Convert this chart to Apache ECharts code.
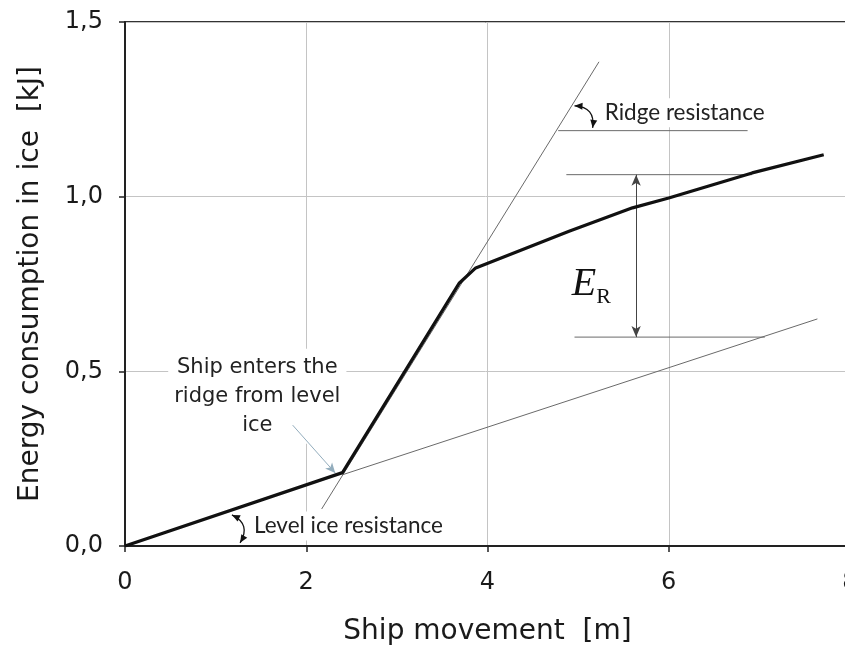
<!DOCTYPE html>
<html>
<head>
<meta charset="utf-8">
<script src="https://cdn.jsdelivr.net/npm/echarts@6/dist/echarts.min.js"></script>
<style>
  html, body { margin: 0; padding: 0; background: #fff; }
  #chart { width: 845px; height: 657px; }
</style>
</head>
<body>
<div id="chart"></div>
<script>
  // energy curve (x in m, y in kJ)
  var mainCurve = [[0, 0], [2.4, 0.21], [3.69, 0.753], [3.87, 0.796], [4.9, 0.901], [5.6, 0.968], [6, 0.996], [6.92, 1.068], [7.71, 1.12]];
  // helper lines
  var levelTangent = [[2.4, 0.204], [7.64, 0.65]];
  var ridgeTangent = [[2.17, 0.106], [5.23, 1.386]];
  var ridgeBase = [[4.78, 1.189], [6.87, 1.189]];
  var erTop = [[4.87, 1.063], [6.92, 1.063]];
  var erBottom = [[4.96, 0.598], [7.06, 0.598]];
  // arrows
  var erArrow = [[5.64, 0.598], [5.64, 1.063]];
  var angleArcs = [[4.96, 1.26, 5.16, 1.197], [1.18, 0.089, 1.27, 0.009]];
  var enterPointer = [[1.85, 0.346], [2.32, 0.209]];
  // texts
  var ridgeNote = {name: 'Ridge resistance', value: [5.25, 1.24]};
  var enterNote = {name: 'Ship enters the\nridge from level\nice', value: [1.46, 0.429]};
  var levelNote = {name: 'Level ice resistance', value: [1.39, 0.057]};
  var erNote = {name: 'ER', value: [4.93, 0.75]};

  var thinStyle = {color: '#6a6a6a', width: 1};

  function thinLine(name, data) {
    return {
      name: name, type: 'line', data: data, symbol: 'none', silent: true,
      lineStyle: thinStyle, z: 3
    };
  }

  function arrowLine(name, pts, opts) {
    return {
      name: name, type: 'line', data: [], silent: true,
      markLine: {
        silent: true,
        animation: false,
        symbol: opts.symbol,
        symbolSize: opts.size || [7, 10],
        label: {show: false},
        lineStyle: {color: opts.color || '#444', width: 1, type: 'solid'},
        itemStyle: {color: opts.color || '#222'},
        data: [[{coord: pts[0]}, {coord: pts[1]}]]
      }
    };
  }

  // arrow head polygon, tip at p, pointing along unit vector d
  function head(p, d, len, w) {
    var bx = p[0] - d[0] * len, by = p[1] - d[1] * len;
    return [p, [bx - d[1] * w / 2, by + d[0] * w / 2], [bx + d[1] * w / 2, by - d[0] * w / 2]];
  }

  function renderArc(params, api) {
    var p1 = api.coord([api.value(0), api.value(1)]);
    var p2 = api.coord([api.value(2), api.value(3)]);
    var c = 0.55;
    var cx = (p1[0] + p2[0]) / 2 - (p1[1] - p2[1]) * c;
    var cy = (p1[1] + p2[1]) / 2 - (p2[0] - p1[0]) * c;
    function unit(a, b) {
      var dx = a[0] - b[0], dy = a[1] - b[1], l = Math.sqrt(dx * dx + dy * dy);
      return [dx / l, dy / l];
    }
    var d1 = unit(p1, [cx, cy]), d2 = unit(p2, [cx, cy]);
    var ink = '#111';
    return {
      type: 'group',
      children: [
        {type: 'bezierCurve', shape: {x1: p1[0], y1: p1[1], x2: p2[0], y2: p2[1], cpx1: cx, cpy1: cy},
          style: {stroke: ink, lineWidth: 1.3, fill: null}},
        {type: 'polygon', shape: {points: head(p1, d1, 8, 7)}, style: {fill: ink}},
        {type: 'polygon', shape: {points: head(p2, d2, 8, 7)}, style: {fill: ink}}
      ]
    };
  }

  var chart = echarts.init(document.getElementById('chart'));
  var option = {
    animation: false,
    backgroundColor: '#fff',
    grid: {
      left: 125, top: 22, right: -5, bottom: 111,
      show: true, borderColor: '#333', borderWidth: 2,
      containLabel: false, outerBoundsMode: 'none'
    },
    xAxis: {
      type: 'value', min: 0, max: 8, interval: 2,
      name: 'Ship movement  [m]', nameLocation: 'middle', nameGap: 72,
      nameTextStyle: {fontFamily: 'DejaVu Sans', fontSize: 28, color: '#1a1a1a'},
      axisLine: {show: true, onZero: false, lineStyle: {color: '#222', width: 2}},
      axisTick: {show: true, length: 6, lineStyle: {color: '#222', width: 1.5}},
      axisLabel: {fontFamily: 'DejaVu Sans', fontSize: 24, color: '#1a1a1a', margin: 25, showMaxLabel: true},
      splitLine: {show: true, lineStyle: {color: '#c4c4c4', width: 1}}
    },
    yAxis: {
      type: 'value', min: 0, max: 1.5, interval: 0.5,
      name: 'Energy consumption in ice  [kJ]', nameLocation: 'middle', nameGap: 80,
      nameTextStyle: {fontFamily: 'DejaVu Sans', fontSize: 28, color: '#1a1a1a'},
      axisLine: {show: true, onZero: false, lineStyle: {color: '#222', width: 2}},
      axisTick: {show: true, length: 6, lineStyle: {color: '#222', width: 1.5}},
      axisLabel: {
        fontFamily: 'DejaVu Sans', fontSize: 24, color: '#1a1a1a', margin: 22,
        formatter: function (v) { return v.toFixed(1).replace('.', ','); }
      },
      splitLine: {show: true, lineStyle: {color: '#c4c4c4', width: 1}}
    },
    series: [
      {
        name: 'notes', type: 'scatter', symbolSize: 0, silent: true, z: 1,
        itemStyle: {opacity: 1},
        data: [
          {
            name: ridgeNote.name, value: ridgeNote.value,
            label: {show: true, position: 'right', distance: 0, formatter: '{b}',
              fontFamily: 'Lato', fontSize: 22.5, color: '#222', backgroundColor: '#fff', padding: [3, 4]}
          },
          {
            name: enterNote.name, value: enterNote.value,
            label: {show: true, position: 'inside', formatter: '{b}', align: 'center',
              fontFamily: 'DejaVu Sans', fontSize: 21, lineHeight: 29, color: '#222', backgroundColor: '#fff', padding: [4, 6]}
          },
          {
            name: levelNote.name, value: levelNote.value,
            label: {show: true, position: 'right', distance: 0, formatter: '{b}',
              fontFamily: 'Lato', fontSize: 22.5, color: '#222', backgroundColor: '#fff', padding: [3, 3]}
          },
          {
            name: erNote.name, value: erNote.value,
            label: {show: true, position: 'right', distance: 0, formatter: '{e|E}{r|R}',
              rich: {
                e: {fontFamily: 'Liberation Serif', fontStyle: 'italic', fontSize: 40, color: '#111'},
                r: {fontFamily: 'Liberation Serif', fontSize: 22, color: '#111', padding: [26, 0, 0, 0]}
              }}
          }
        ]
      },
      thinLine('level ice', levelTangent),
      thinLine('ridge', ridgeTangent),
      thinLine('ridge base', ridgeBase),
      thinLine('ER top', erTop),
      thinLine('ER bottom', erBottom),
      arrowLine('ER arrow', erArrow, {symbol: ['arrow', 'arrow'], size: [7, 11]}),
      arrowLine('pointer', enterPointer, {symbol: ['none', 'arrow'], size: [7, 10], color: '#93adbd'}),
      {
        name: 'angle arcs', type: 'custom', data: angleArcs, silent: true, z: 4,
        renderItem: renderArc
      },
      {
        name: 'energy', type: 'line', data: mainCurve, symbol: 'none', silent: true, z: 5,
        lineStyle: {color: '#111', width: 3.2}
      }
    ]
  };
  chart.setOption(option);
</script>
</body>
</html>
